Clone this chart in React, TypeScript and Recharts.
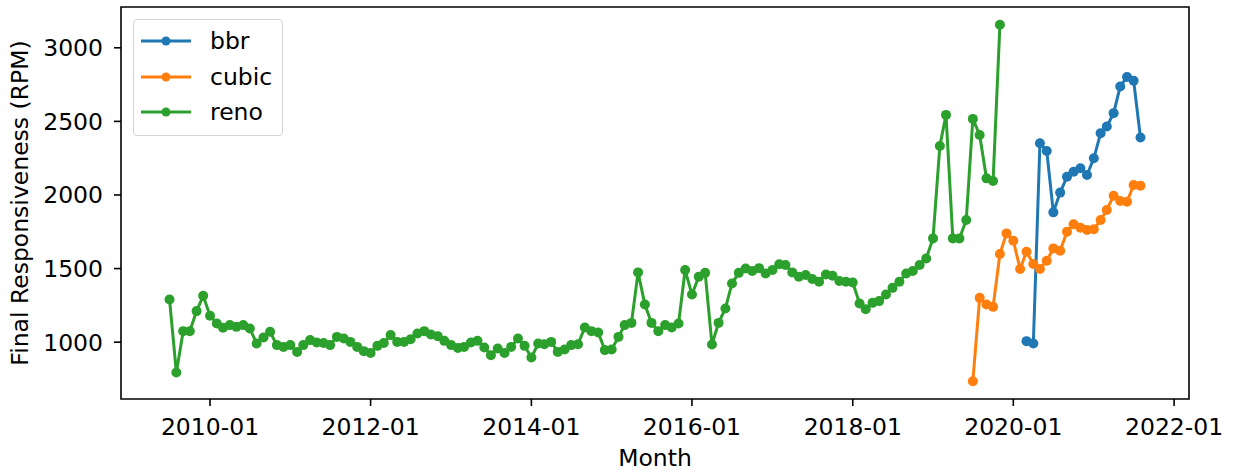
import { LineChart, Line, XAxis, YAxis, ReferenceArea } from 'recharts'

// monthly series, first month + values
const renoStart = '2009-07'
const renoValues = [
  1290, 794, 1075, 1075, 1211, 1315, 1179, 1127, 1098, 1116,
  1104, 1116, 1093, 991, 1032, 1070, 980, 968, 980, 934,
  980, 1014, 998, 995, 980, 1036, 1025, 1002, 968, 939,
  927, 975, 995, 1048, 1002, 1002, 1020, 1059, 1075, 1052,
  1041, 1009, 980, 961, 968, 998, 1009, 964, 912, 957,
  927, 968, 1025, 975, 896, 991, 986, 1002, 934, 950,
  980, 986, 1100, 1075, 1066, 946, 950, 1036, 1116, 1131,
  1474, 1256, 1131, 1075, 1116, 1100, 1127, 1490, 1324, 1444,
  1471, 984, 1131, 1229, 1399, 1471, 1501, 1483, 1503, 1467,
  1490, 1529, 1524, 1474, 1444, 1456, 1429, 1410, 1460, 1451,
  1415, 1410, 1406, 1263, 1224, 1267, 1279, 1324, 1369, 1410,
  1467, 1483, 1524, 1569, 1705, 2333, 2544, 1705, 1705, 1830,
  2517, 2408, 2113, 2095, 3156,
]

const cubicStart = '2019-07'
const cubicValues = [
  735, 1301, 1256, 1240, 1599, 1739, 1689, 1497, 1614, 1531,
  1497, 1553, 1637, 1621, 1750, 1801, 1778, 1762, 1767, 1830,
  1898, 1995, 1959, 1954, 2068, 2063,
]

const bbrStart = '2020-03'
const bbrValues = [
  1007, 991, 2351, 2299, 1882, 2016, 2124, 2158, 2181, 2136,
  2249, 2420, 2465, 2556, 2737, 2801, 2776, 2390,
]

const xTickLabels = ['2010-01', '2012-01', '2014-01', '2016-01', '2018-01', '2020-01', '2022-01']
const yTicks = [1000, 1500, 2000, 2500, 3000]

const FONT = 'DejaVu Sans'
const FS = 23.5

const toTime = (ym: string, offset = 0) => {
  const [y, m] = ym.split('-').map(Number)
  return Date.UTC(y, m - 1 + offset, 1)
}

const monthSeries = (start: string, values: number[]) =>
  values.map((v, i) => ({ t: toTime(start, i), v }))

const series = [
  { name: 'bbr', color: '#1f77b4', data: monthSeries(bbrStart, bbrValues) },
  { name: 'cubic', color: '#ff7f0e', data: monthSeries(cubicStart, cubicValues) },
  { name: 'reno', color: '#2ca02c', data: monthSeries(renoStart, renoValues) },
]

// matplotlib-style 5% margins around the data
const pad = (lo: number, hi: number): [number, number] => {
  const d = (hi - lo) * 0.05
  return [lo - d, hi + d]
}
const allT = series.flatMap(s => s.data.map(p => p.t))
const allV = series.flatMap(s => s.data.map(p => p.v))
const xDomain = pad(Math.min(...allT), Math.max(...allT))
const yDomain = pad(Math.min(...allV), Math.max(...allV))

const xTicks = xTickLabels.map(l => toTime(l))
const fmtMonth = (t: number) => {
  const d = new Date(t)
  return `${d.getUTCFullYear()}-${String(d.getUTCMonth() + 1).padStart(2, '0')}`
}

const tickStyle = { fill: '#000', fontSize: FS, fontFamily: FONT }

function LegendBox() {
  return (
    <div
      style={{
        position: 'absolute', left: 133, top: 19, width: 148, height: 115,
        border: '1.5px solid #d4d4d4', borderRadius: 4, background: 'rgba(255,255,255,0.8)',
      }}
    >
      {series.map((s, i) => (
        <div
          key={s.name}
          style={{ position: 'absolute', left: 0, top: 6 + i * 35.5, height: 30, width: 148 }}
        >
          <svg width={50} height={30} style={{ position: 'absolute', left: 7, top: 0 }}>
            <line x1={0} y1={15} x2={50} y2={15} stroke={s.color} strokeWidth={3} />
            <circle cx={25} cy={15} r={4.5} fill={s.color} />
          </svg>
          <span
            style={{
              position: 'absolute', left: 76, top: 0, lineHeight: '30px',
              fontSize: FS, fontFamily: FONT, color: '#000',
            }}
          >
            {s.name}
          </span>
        </div>
      ))}
    </div>
  )
}

export default function App() {
  return (
    <div style={{ position: 'absolute', left: 0, top: 0, width: 1233, height: 472, background: '#fff' }}>
      <LineChart width={1233} height={472} margin={{ top: 7, right: 44, bottom: 0, left: 0 }}>
        <XAxis
          type="number"
          dataKey="t"
          domain={xDomain}
          ticks={xTicks}
          tickFormatter={fmtMonth}
          allowDataOverflow
          axisLine={false}
          tickLine={{ stroke: '#000', strokeWidth: 1.6 }}
          tickSize={7}
          tickMargin={12}
          tick={tickStyle}
          height={73}
          label={{ value: 'Month', position: 'insideBottom', offset: 6, ...tickStyle }}
        />
        <YAxis
          type="number"
          domain={yDomain}
          ticks={yTicks}
          allowDataOverflow
          axisLine={false}
          tickLine={{ stroke: '#000', strokeWidth: 1.6 }}
          tickSize={7}
          tickMargin={11}
          tick={tickStyle}
          width={121}
          label={{ value: 'Final Responsiveness (RPM)', angle: -90, position: 'center', dx: -41, ...tickStyle }}
        />
        <ReferenceArea
          x1={xDomain[0]} x2={xDomain[1]} y1={yDomain[0]} y2={yDomain[1]}
          fill="none" stroke="#000" strokeWidth={1.6} fillOpacity={0}
        />
        {series.map(s => (
          <Line
            key={s.name}
            data={s.data}
            dataKey="v"
            name={s.name}
            stroke={s.color}
            strokeWidth={3}
            dot={{ r: 5, fill: s.color, stroke: s.color, strokeWidth: 0 }}
            isAnimationActive={false}
          />
        ))}
      </LineChart>
      <LegendBox />
    </div>
  )
}
